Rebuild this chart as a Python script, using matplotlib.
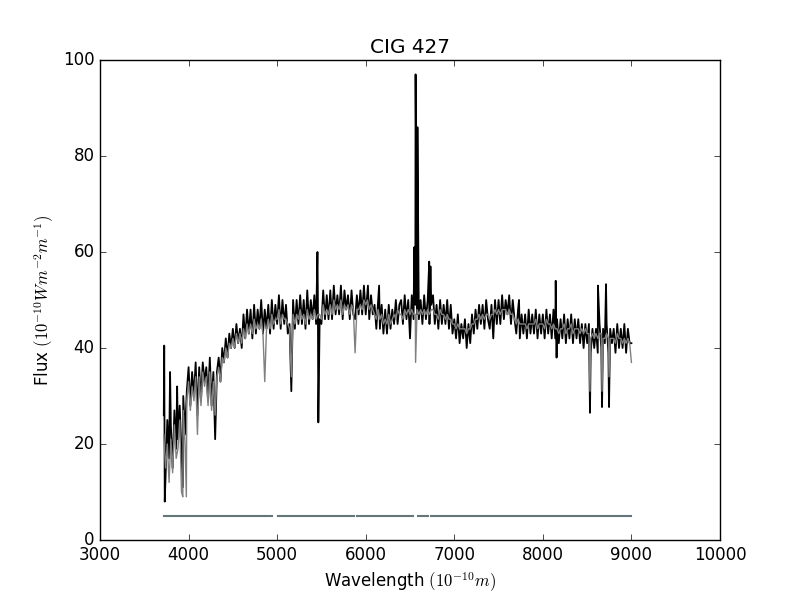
import numpy as np
import matplotlib
matplotlib.use('Agg')
import matplotlib.pyplot as plt

# base wavelength grid (Angstrom) of the spectrum
wl_grid = np.arange(3720, 9001, 20)

obs_flux = [
    26, 13, 25, 17,
    24, 15, 27, 19, 21,
    28, 18, 30, 22, 31,
    36, 28, 35, 30, 37,
    26, 36, 29, 37, 33,
    36, 29, 38, 28, 35,
    21, 35, 38, 33, 40,
    37, 42, 38, 43, 40,
    44, 40, 45, 41, 44,
    40, 47, 42, 48, 43,
    48, 42, 49, 43, 48,
    44, 50, 43, 48, 44,
    49, 43, 50, 44, 49,
    45, 51, 44, 50, 45,
    49, 43, 45, 31, 50,
    44, 50, 45, 51, 45,
    50, 44, 52, 45, 50,
    46, 51, 45, 50, 46,
    45, 52, 46, 51, 46,
    52, 46, 53, 47, 51,
    47, 53, 46, 52, 48,
    51, 46, 52, 47, 46,
    51, 47, 52, 47, 53,
    47, 52, 46, 51, 47,
    49, 44, 50, 44, 49,
    43, 48, 43, 49, 44,
    48, 45, 50, 45, 49,
    50, 45, 51, 46, 50,
    42, 51, 46, 49, 47,
    46, 50, 45, 51, 46,
    50, 45, 49, 51, 45,
    49, 44, 50, 45, 49,
    45, 50, 44, 49, 43,
    46, 42, 47, 41, 45,
    42, 46, 40, 45, 41,
    47, 43, 48, 44, 49,
    45, 49, 44, 50, 46,
    44, 49, 42, 50, 45,
    50, 45, 51, 46, 50,
    47, 51, 45, 50, 46,
    43, 48, 42, 47, 43,
    47, 42, 48, 43, 47,
    43, 48, 42, 47, 43,
    47, 42, 48, 43, 47,
    42, 48, 42, 46, 41,
    46, 42, 47, 41, 46,
    42, 47, 41, 46, 42,
    46, 41, 45, 40, 45,
    41, 45, 39, 44, 40,
    44, 39, 45, 40, 44,
    41, 45, 39, 44, 41,
    44, 39, 45, 40, 44,
    40, 45, 39, 44, 41,
    41,
]

# fitted model flux
model_flux = [
    22, 15, 20, 12,
    21, 14, 24, 17, 19,
    25, 10, 27, 20, 29,
    33, 27, 32, 29, 34,
    22, 34, 28, 35, 32,
    34, 28, 35, 27, 33,
    26, 34, 36, 33, 38,
    37, 40, 38, 41, 40,
    42, 40, 43, 41, 43,
    41, 44, 42, 45, 43,
    45, 43, 46, 44, 45,
    44, 46, 43, 33, 44,
    46, 44, 47, 45, 46,
    46, 48, 45, 47, 46,
    46, 45, 44, 34, 47,
    45, 47, 46, 48, 46,
    47, 45, 48, 46, 47,
    46, 48, 46, 47, 47,
    46, 49, 47, 48, 47,
    49, 47, 50, 48, 49,
    48, 50, 47, 49, 48,
    49, 47, 49, 48, 39,
    48, 48, 49, 48, 50,
    49, 50, 48, 49, 48,
    47, 46, 48, 46, 47,
    45, 46, 45, 47, 45,
    46, 47, 46, 48, 47,
    47, 46, 48, 47, 48,
    47, 48, 47, 47, 48,
    47, 48, 47, 48, 47,
    48, 47, 48, 48, 47,
    47, 46, 48, 47, 47,
    46, 47, 46, 46, 45,
    45, 44, 45, 44, 44,
    44, 44, 43, 44, 44,
    45, 45, 46, 46, 47,
    46, 47, 46, 47, 47,
    46, 47, 47, 48, 47,
    48, 47, 48, 48, 48,
    47, 48, 47, 47, 46,
    45, 46, 45, 45, 45,
    45, 44, 45, 45, 45,
    45, 46, 44, 45, 45,
    45, 44, 46, 45, 45,
    44, 45, 44, 44, 43,
    44, 44, 45, 43, 44,
    44, 45, 43, 44, 44,
    44, 43, 44, 43, 44,
    43, 43, 42, 43, 42,
    43, 42, 43, 43, 42,
    42, 43, 42, 42, 42,
    42, 41, 43, 42, 42,
    41, 42, 41, 42, 41,
    37,
]

# narrow features (emission lines, sky residuals, deep absorptions)
obs_line_wl = [3725, 3731, 3791, 3871, 3935, 5455, 5465, 6025, 6151, 6548, 6563,
               6584, 6717, 6731, 7731, 8145, 8155, 8532, 8622, 8668, 8713, 8747]
obs_line_flux = [40.5, 8, 35, 32, 11, 60, 24.5, 53, 53, 61, 97,
                 86, 58, 57, 50, 54, 38, 26.5, 53, 27.7, 53.3, 27.7]
model_line_wl = [3935, 3975, 6563, 8532, 8668, 8747]
model_line_flux = [9, 9, 37, 31, 31, 34]

# masked regions: the flag line is drawn only where the fit was used
mask_start = [3720, 4862, 5010, 5902, 6308, 6590, 6737]
mask_end = [4850, 4945, 5870, 6285, 6534, 6703, 8990]
mask_level = 5


def merge(wl, flux, extra_wl, extra_flux):
    x = np.concatenate([wl, extra_wl])
    y = np.concatenate([flux, extra_flux])
    order = np.argsort(x)
    return x[order], y[order]


plt.style.use('classic')
fig = plt.figure(figsize=(8, 6), dpi=100)
ax = fig.add_subplot(111)

x_obs, y_obs = merge(wl_grid, np.array(obs_flux, float), obs_line_wl, obs_line_flux)
x_mod, y_mod = merge(wl_grid, np.array(model_flux, float), model_line_wl, model_line_flux)

ax.plot(x_obs, y_obs, color='k', lw=1.3)
ax.plot(x_mod, y_mod, color='0.5', lw=1.0)
for s, e in zip(mask_start, mask_end):
    ax.plot([s, e], [mask_level, mask_level], color='#647679', lw=1.5)

ax.set_xlim(3000, 10000)
ax.set_ylim(0, 100)
ax.set_title('CIG 427')
ax.set_xlabel(r'Wavelength $(10^{-10} m)$')
ax.set_ylabel(r'Flux $(10^{-10} W m^{-2} m^{-1})$')

fig.savefig('out.png', dpi=100, facecolor='white')
